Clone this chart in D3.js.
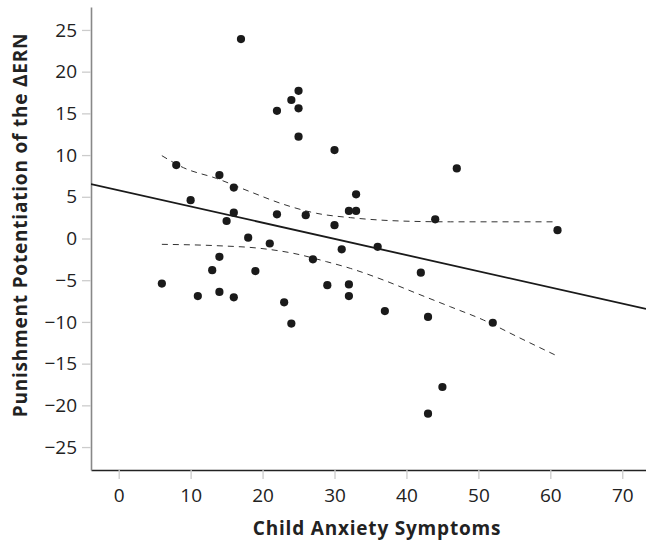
<!doctype html>
<html lang="en">
<head>
  <meta charset="utf-8">
  <script src="https://d3js.org/d3.v7.min.js"></script>
  <style>
    body { margin: 0; background: #fff; }
    text { font-family: "Open Sans", "Noto Sans", sans-serif; fill: #222; }
  </style>
</head>
<body>
<svg id="chart" width="646" height="540"></svg>
<script>
  // anxiety score / punishment potentiation of the dERN, one pair per child
  var anxiety = [6, 8, 10, 11, 13, 14, 14, 14, 15, 16, 16, 16, 17, 18, 19, 21, 22, 22, 23, 24, 24,
                 25, 25, 25, 26, 27, 29, 30, 30, 31, 32, 32, 32, 33, 33, 36, 37, 42, 43, 43, 44, 45, 47, 52, 61];
  var potentiation = [-5.4, 8.8, 4.6, -6.9, -3.8, 7.6, -2.2, -6.4, 2.1, 6.1, 3.1, -7.05, 23.9, 0.1, -3.9, -0.6, 15.3, 2.9, -7.65, 16.6, -10.2,
                      17.7, 15.6, 12.2, 2.8, -2.5, -5.6, 10.6, 1.6, -1.3, 3.3, -5.5, -6.9, 5.3, 3.3, -1.0, -8.7, -4.1, -9.4, -21.0, 2.3, -17.8, 8.4, -10.1, 1.0];

  // fit line ends
  var fitX = [-3.85, 73.3];
  var fitY = [6.53, -8.45];

  // confidence band
  var upperX = [6, 9, 13.6, 18.3, 22.9, 27.5, 32.2, 39.1, 46.1, 53, 61];
  var upperY = [9.93, 8.49, 7.2, 5.6, 4.1, 3.02, 2.5, 2.1, 2.0, 2.0, 2.0];
  var lowerX = [6, 13.6, 19.65, 24.3, 28.9, 32.2, 36.8, 41.4, 46.1, 50.7, 55.4, 61];
  var lowerY = [-0.7, -0.86, -1.18, -1.78, -2.78, -3.58, -4.98, -6.57, -8.18, -9.77, -11.77, -14.1];

  var xTicks = [0, 10, 20, 30, 40, 50, 60, 70];
  var yTicks = [-25, -20, -15, -10, -5, 0, 5, 10, 15, 20, 25];

  var svg = d3.select("#chart");
  var plotLeft = 91, plotRight = 646, plotTop = 7, plotBottom = 470;

  var x = d3.scaleLinear().domain([-3.85, 73.3]).range([plotLeft, plotRight]);
  var y = d3.scaleLinear().domain([-27.75, 27.75]).range([plotBottom, plotTop]);

  // x axis
  var xAxis = svg.append("g")
      .attr("transform", "translate(0," + plotBottom + ")")
      .call(d3.axisBottom(x).tickValues(xTicks).tickSize(9).tickPadding(10).tickSizeOuter(0));
  xAxis.select(".domain").attr("stroke", "#222").attr("stroke-width", 1.4);
  xAxis.selectAll(".tick line").attr("stroke", "#ccc").attr("stroke-width", 1.3);
  xAxis.selectAll(".tick text").style("font-size", "19px").attr("fill", "#222");

  // y axis
  var yAxis = svg.append("g")
      .attr("transform", "translate(" + plotLeft + ",0)")
      .call(d3.axisLeft(y).tickValues(yTicks).tickSize(9).tickPadding(5).tickSizeOuter(0)
        .tickFormat(function(d) { return d < 0 ? "\u2212" + Math.abs(d) : d; }));
  yAxis.select(".domain").attr("stroke", "#888").attr("stroke-width", 1.6);
  yAxis.selectAll(".tick line").attr("stroke", "#ccc").attr("stroke-width", 1.3);
  yAxis.selectAll(".tick text").style("font-size", "19px").attr("fill", "#222");

  svg.append("clipPath").attr("id", "plot")
    .append("rect").attr("x", plotLeft).attr("y", plotTop)
    .attr("width", plotRight - plotLeft).attr("height", plotBottom - plotTop);

  var line = d3.line()
      .x(function(d) { return x(d[0]); })
      .y(function(d) { return y(d[1]); });

  svg.append("path")
      .datum(d3.zip(fitX, fitY))
      .attr("clip-path", "url(#plot)")
      .attr("d", line)
      .attr("fill", "none")
      .attr("stroke", "#1a1a1a")
      .attr("stroke-width", 1.8);

  var band = d3.line()
      .x(function(d) { return x(d[0]); })
      .y(function(d) { return y(d[1]); })
      .curve(d3.curveMonotoneX);

  [d3.zip(upperX, upperY), d3.zip(lowerX, lowerY)].forEach(function(pts) {
    svg.append("path")
        .datum(pts)
        .attr("d", band)
        .attr("fill", "none")
        .attr("stroke", "#333")
        .attr("stroke-width", 1)
        .attr("stroke-dasharray", "6,5");
  });

  svg.append("g").selectAll("circle")
      .data(d3.zip(anxiety, potentiation))
      .enter().append("circle")
      .attr("cx", function(d) { return x(d[0]); })
      .attr("cy", function(d) { return y(d[1]); })
      .attr("r", 4.1)
      .attr("fill", "#1a1a1a");

  svg.append("text")
      .attr("x", 377)
      .attr("y", 535)
      .attr("text-anchor", "middle")
      .style("font-size", "19px")
      .style("font-weight", "bold")
      .style("letter-spacing", "0.8px")
      .text("Child Anxiety Symptoms");

  svg.append("text")
      .attr("transform", "translate(27,225) rotate(-90)")
      .attr("text-anchor", "middle")
      .style("font-size", "19px")
      .style("font-weight", "bold")
      .style("letter-spacing", "0.8px")
      .text("Punishment Potentiation of the \u0394ERN");
</script>
</body>
</html>
